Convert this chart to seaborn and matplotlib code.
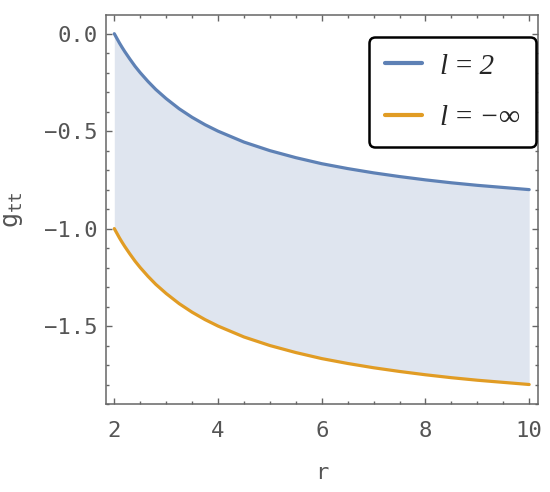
import numpy as np
import pandas as pd
import matplotlib
matplotlib.use("Agg")
import matplotlib.pyplot as plt
import seaborn as sns
from matplotlib.ticker import MultipleLocator

# values
r_vals = [2.0, 2.05, 2.1, 2.15, 2.2, 2.3, 2.4, 2.5, 2.65, 2.8, 3.0, 3.25, 3.5, 3.75, 4.0,
          4.5, 5.0, 5.5, 6.0, 6.5, 7.0, 7.5, 8.0, 8.5, 9.0, 9.5, 10.0]
g_l2 = [0.0, -0.024, -0.048, -0.070, -0.091, -0.130, -0.167, -0.20, -0.245, -0.286, -0.333,
        -0.385, -0.429, -0.467, -0.50, -0.556, -0.60, -0.636, -0.667, -0.692, -0.714, -0.733,
        -0.75, -0.765, -0.778, -0.789, -0.80]
g_linf = [-1.0, -1.024, -1.048, -1.070, -1.091, -1.130, -1.167, -1.20, -1.245, -1.286, -1.333,
          -1.385, -1.429, -1.467, -1.50, -1.556, -1.60, -1.636, -1.667, -1.692, -1.714, -1.733,
          -1.75, -1.765, -1.778, -1.789, -1.80]
labels = ["l\u2009=\u20092", "l\u2009=\u2009−∞"]

blue = "#5E81B5"
orange = "#E19C24"
grey = "#555555"

sns.set_style("ticks")
plt.rcParams["font.family"] = ["DejaVu Sans Mono"]
plt.rcParams["mathtext.fontset"] = "dejavusans"

df = pd.DataFrame({
    "r": r_vals * 2,
    "g": g_l2 + g_linf,
    "curve": [labels[0]] * len(r_vals) + [labels[1]] * len(r_vals),
})

fig = plt.figure(figsize=(5.5, 4.92), dpi=100)
ax = fig.add_axes([106 / 550, 1 - 404 / 492, 432 / 550, 389 / 492])

ax.fill_between(r_vals, g_linf, g_l2, color="#dfe5ef", lw=0, zorder=1)
sns.lineplot(data=df, x="r", y="g", hue="curve", palette=[blue, orange],
             linewidth=2.3, ax=ax, zorder=3, legend=True)

ax.set_xlim(1.84, 10.17)
ax.set_ylim(-1.90, 0.096)
ax.xaxis.set_major_locator(MultipleLocator(2))
ax.xaxis.set_minor_locator(MultipleLocator(0.5))
ax.yaxis.set_major_locator(MultipleLocator(0.5))
ax.yaxis.set_minor_locator(MultipleLocator(0.1))
ax.tick_params(which="both", direction="in", top=True, right=True,
               color="#666666", labelcolor=grey, labelsize=16, width=1)
ax.tick_params(which="major", length=4.5)
ax.tick_params(which="minor", length=2.5)
ax.tick_params(axis="x", pad=12)
ax.tick_params(axis="y", pad=6)
ax.yaxis.set_major_formatter(plt.FuncFormatter(lambda v, p: f"{v:.1f}".replace("-", "−")))
for s in ax.spines.values():
    s.set_color("#666666")
    s.set_linewidth(1.1)

ax.set_xlabel("r", fontsize=16, color=grey, labelpad=16)
ax.set_ylabel(r"$\mathtt{g_{tt}}$", fontsize=18, color=grey, labelpad=14)

handles, _ = ax.get_legend_handles_labels()
leg = ax.legend(handles, labels, loc="upper right", bbox_to_anchor=(0.995, 0.943),
                borderaxespad=0,
                prop={"family": "Liberation Serif", "style": "italic", "size": 21},
                frameon=True, fancybox=True, edgecolor="black", handlelength=1.28,
                labelspacing=0.85, borderpad=0.55, handletextpad=0.6, framealpha=1)
leg.get_frame().set_linewidth(1.8)
for line in leg.get_lines():
    line.set_linewidth(3)

fig.savefig("out.png", dpi=100)
